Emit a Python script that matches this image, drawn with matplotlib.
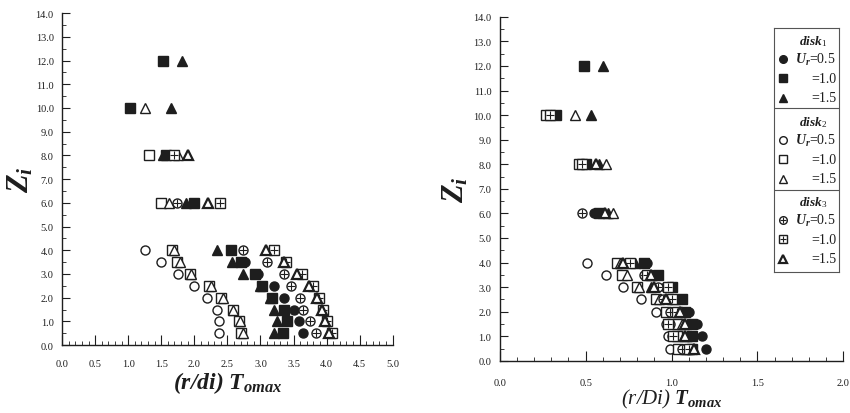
import numpy as np
import matplotlib
matplotlib.use('Agg')
import matplotlib.pyplot as plt
from matplotlib.ticker import MultipleLocator, FormatStrFormatter

plt.rcParams['font.family'] = 'Liberation Serif'
plt.rcParams['mathtext.fontset'] = 'custom'
plt.rcParams['mathtext.rm'] = 'Liberation Serif'
plt.rcParams['mathtext.it'] = 'Liberation Serif:italic:bold'
plt.rcParams['mathtext.bf'] = 'Liberation Serif:bold'

nan = np.nan
# heights Z_i shared by both panels
z = [12, 10, 8, 6, 4, 3.5, 3, 2.5, 2, 1.5, 1, 0.5]

# left panel: (r/di) T_omax
L_d1_05 = [nan, nan, nan, nan, nan, 2.77, 2.97, 3.20, 3.35, 3.50, 3.59, 3.64]
L_d1_10 = [1.52, 1.02, 1.57, 1.99, 2.55, 2.70, 2.92, 3.03, 3.17, 3.35, 3.40, 3.34]
L_d1_15 = [1.82, 1.64, 1.52, 1.87, 2.35, 2.57, 2.74, 3.00, 3.15, 3.21, 3.25, 3.21]
L_d2_05 = [nan, nan, nan, nan, 1.25, 1.50, 1.75, 1.99, 2.19, 2.34, 2.37, 2.38]
L_d2_10 = [nan, nan, 1.32, 1.50, 1.66, 1.74, 1.94, 2.22, 2.40, 2.58, 2.68, 2.71]
L_d2_15 = [nan, 1.26, 1.76, 1.61, 1.70, 1.79, 1.95, 2.25, 2.43, 2.59, 2.69, 2.73]
L_d3_05 = [nan, nan, nan, 1.74, 2.74, 3.10, 3.36, 3.46, 3.60, 3.65, 3.75, 3.84]
L_d3_10 = [nan, nan, 1.69, 2.39, 3.20, 3.39, 3.63, 3.80, 3.88, 3.95, 4.00, 4.08]
L_d3_15 = [nan, nan, 1.90, 2.20, 3.08, 3.35, 3.55, 3.73, 3.86, 3.93, 3.98, 4.03]

# right panel: (r/Di) T_omax
R_d1_05 = [nan, nan, nan, 0.55, 0.86, 0.90, 0.96, 1.04, 1.10, 1.15, 1.18, 1.20]
R_d1_10 = [0.49, 0.33, 0.50, 0.58, 0.84, 0.92, 1.00, 1.06, 1.08, 1.12, 1.12, 1.12]
R_d1_15 = [0.60, 0.53, 0.58, 0.63, 0.79, 0.88, 0.88, 1.02, 1.06, 1.07, 1.09, 1.09]
R_d2_05 = [nan, nan, nan, nan, 0.51, 0.62, 0.72, 0.82, 0.91, 0.97, 0.98, 0.99]
R_d2_10 = [nan, 0.27, 0.46, nan, 0.68, 0.71, 0.80, 0.91, 0.97, 1.04, 1.03, 1.04]
R_d2_15 = [nan, 0.44, 0.62, 0.66, 0.70, 0.74, 0.81, 0.93, 1.00, 1.06, 1.07, 1.08]
R_d3_05 = [nan, nan, nan, 0.48, 0.74, 0.84, 0.92, 0.95, 0.99, 0.99, 1.00, 1.06]
R_d3_10 = [nan, 0.29, 0.48, nan, 0.76, 0.86, 0.98, 1.00, 1.03, 0.98, 1.01, 1.10]
R_d3_15 = [nan, nan, 0.56, 0.61, 0.72, 0.88, 0.90, 0.97, 1.05, 1.08, 1.08, 1.13]

ink = '#1e1e1e'
ms = 6.5

styles = [
    dict(marker='o', mfc=ink, mec=ink),           # disk1 U=0.5
    dict(marker='s', mfc=ink, mec=ink),           # disk1 U=1.0
    dict(marker='^', mfc=ink, mec=ink),           # disk1 U=1.5
    dict(marker='o', mfc='white', mec=ink),       # disk2 U=0.5
    dict(marker='s', mfc='white', mec=ink),       # disk2 U=1.0
    dict(marker='^', mfc='white', mec=ink),       # disk2 U=1.5
    dict(marker='o', mfc='white', mec=ink),       # disk3 U=0.5 (+ cross)
    dict(marker='s', mfc='white', mec=ink),       # disk3 U=1.0 (+ cross)
    dict(marker='^', mfc='white', mec=ink, mew=1.6),  # disk3 U=1.5
]
crossed = [False] * 6 + [True, True, False]


def draw(ax, series):
    for xs, st, cr in zip(series, styles, crossed):
        ax.plot(xs, z, ls='none', ms=ms, mew=st.get('mew', 1.0),
                marker=st['marker'], mfc=st['mfc'], mec=st['mec'])
        if cr:
            ax.plot(xs, z, ls='none', marker='+', ms=ms - 0.5, mew=0.8, color=ink)


def style_axes(ax, xmax, xpad):
    ax.set_xlim(0, xmax)
    ax.set_ylim(0, 14)
    ax.xaxis.set_major_locator(MultipleLocator(0.5))
    ax.xaxis.set_minor_locator(MultipleLocator(0.1))
    ax.yaxis.set_major_locator(MultipleLocator(1.0))
    ax.yaxis.set_minor_locator(MultipleLocator(0.5))
    ax.xaxis.set_major_formatter(FormatStrFormatter('%.1f'))
    ax.yaxis.set_major_formatter(FormatStrFormatter('%.1f'))
    ax.tick_params(which='both', direction='in', labelsize=7.5, colors=ink)
    ax.tick_params(axis='x', which='major', length=7, pad=xpad)
    ax.tick_params(axis='x', which='minor', length=3)
    ax.tick_params(axis='y', which='major', length=6, pad=6)
    ax.tick_params(axis='y', which='minor', length=3)
    for s in ['top', 'right']:
        ax.spines[s].set_visible(False)
    for s in ['left', 'bottom']:
        ax.spines[s].set_color(ink)
        ax.spines[s].set_linewidth(1.0)


fig = plt.figure(figsize=(8.5, 4.14), dpi=100)
ax1 = fig.add_axes([0.073, 0.164, 0.389, 0.802])
ax2 = fig.add_axes([0.588, 0.126, 0.404, 0.831])

draw(ax1, [L_d1_05, L_d1_10, L_d1_15, L_d2_05, L_d2_10, L_d2_15, L_d3_05, L_d3_10, L_d3_15])
draw(ax2, [R_d1_05, R_d1_10, R_d1_15, R_d2_05, R_d2_10, R_d2_15, R_d3_05, R_d3_10, R_d3_15])

style_axes(ax1, 5.0, 10)
style_axes(ax2, 2.0, 12)

ax1.set_xlabel(r'(r/di) $T_{omax}$', fontsize=17, style='italic', weight='bold', color=ink, labelpad=1)
ax2.set_xlabel(r'(r/Di) $T_{omax}$', fontsize=15, style='italic', color=ink, labelpad=0)
ax1.set_ylabel(r'$Z_i$', fontsize=22, color=ink, labelpad=0)
ax2.set_ylabel(r'$Z_i$', fontsize=22, color=ink, labelpad=2)

# legend box on the right panel
lg = fig.add_axes([0.911, 0.341, 0.076, 0.589])
lg.set_xlim(774, 839)
lg.set_ylim(273, 29)
lg.set_xticks([])
lg.set_yticks([])
for s in lg.spines.values():
    s.set_color('#555555')
    s.set_linestyle((0, (2, 1)))
    s.set_linewidth(0.8)
for yy in [109, 191]:
    lg.axhline(yy, color='#555555', lw=0.8)
heads = [42, 123, 203]
for i, hy in enumerate(heads):
    lg.text(813, hy, r'disk$_{%d}$' % (i + 1), ha='center', va='center',
            fontsize=9.5, style='italic', weight='bold', color=ink)
    for j, lab in enumerate([r'$U_r$=0.5', '=1.0', '=1.5']):
        ry = hy + 18 + j * 19.5
        st = styles[i * 3 + j]
        lg.plot([783], [ry], ls='none', ms=5.5, mew=st.get('mew', 1.0),
                marker=st['marker'], mfc=st['mfc'], mec=st['mec'])
        if crossed[i * 3 + j]:
            lg.plot([783], [ry], ls='none', marker='+', ms=5, mew=0.8, color=ink)
        lg.text(836, ry, lab, ha='right', va='center', fontsize=10, color=ink)

fig.savefig('out.png', dpi=100)
